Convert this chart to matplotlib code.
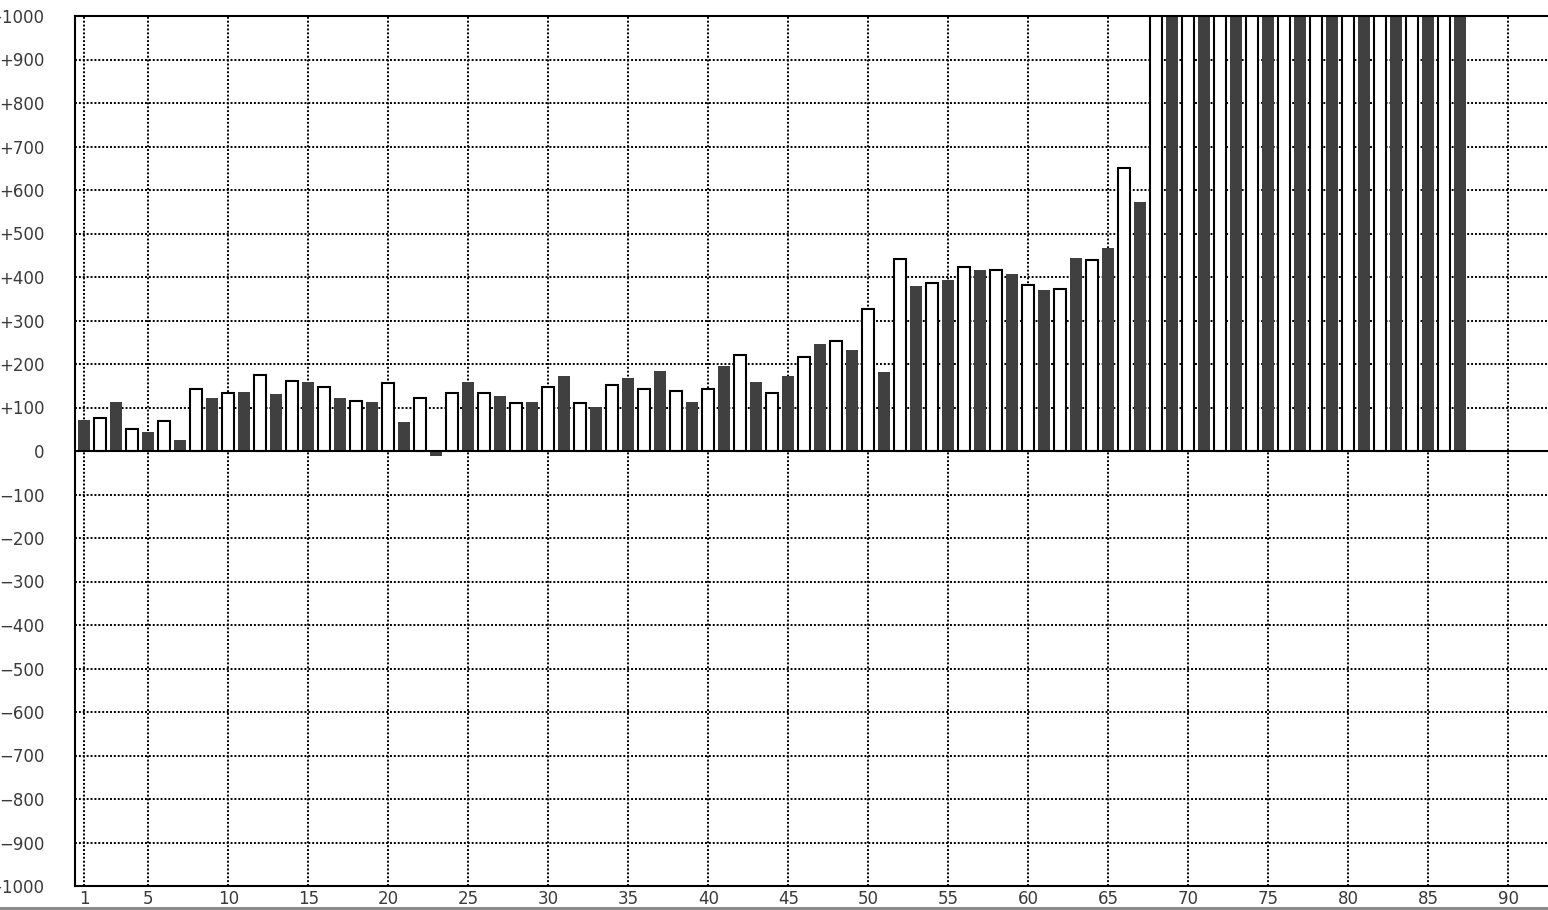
"""
Bar chart of 87 consecutive readings, alternating dark / outlined bars, +-1000 scale.
"""
import numpy as np
import matplotlib.pyplot as plt
from matplotlib.patches import Rectangle

# readings 1..87; 68..87 run off the top of the scale (value unknown, > 1000)
values = [
    71, 75, 112, 51, 43, 69, 25, 143, 121, 134,
    135, 175, 131, 162, 158, 147, 121, 116, 112, 157,
    66, 121, -11, 134, 158, 134, 126, 110, 112, 147,
    172, 110, 102, 152, 167, 142, 185, 138, 112, 142,
    195, 221, 158, 134, 172, 216, 245, 254, 232, 327,
    181, 442, 379, 387, 393, 424, 416, 415, 407, 382,
    370, 373, 444, 438, 467, 650, 573,
    1200, 1200, 1200, 1200, 1200, 1200, 1200, 1200, 1200, 1200,
    1200, 1200, 1200, 1200, 1200, 1200, 1200, 1200, 1200, 1200,
]
x_ticks = [1, 5, 10, 15, 20, 25, 30, 35, 40, 45, 50, 55, 60, 65, 70, 75, 80, 85, 90]
y_ticks = list(range(-1000, 1001, 100))
y_labels = ['0' if v == 0 else (f'+{v}' if v > 0 else f'\u2212{-v}') for v in y_ticks]

DARK = '#404040'
W, H = 1548, 910


def main():
    fig = plt.figure(figsize=(W / 100, H / 100), dpi=100)
    ax = fig.add_axes([75 / W, 24 / H, (1553 - 75) / W, (886 - 16) / H])

    n = np.arange(1, len(values) + 1)
    vals = np.array(values)
    odd = n % 2 == 1
    ax.bar(n[odd], vals[odd], width=0.75, color=DARK, lw=0, zorder=2)
    ax.bar(n[~odd], vals[~odd], width=0.75, facecolor='white',
           edgecolor='black', lw=1.5, zorder=2)

    ax.axhline(0, color='black', lw=1.5, zorder=3)

    ax.set_xlim(0.41, 92.8)
    ax.set_ylim(-1000, 1000)
    ax.set_xticks(x_ticks)
    ax.set_yticks(y_ticks)
    ax.set_yticklabels(y_labels)
    ax.grid(True, color='black', lw=1.4, ls=(0, (1, 1)), zorder=0)
    ax.set_axisbelow(True)
    ax.tick_params(axis='both', length=0, labelsize=12, labelcolor='#3a3a3a')
    ax.tick_params(axis='y', pad=22)
    ax.tick_params(axis='x', pad=3)
    for s in ('left', 'bottom', 'top'):
        ax.spines[s].set_linewidth(1.5)
    ax.spines['right'].set_visible(False)

    fig.add_artist(Rectangle((0, 0), 1, 3 / H, transform=fig.transFigure,
                             color='#8c8c8c', lw=0))
    fig.savefig('out.png', dpi=100)
    plt.close()


if __name__ == '__main__':
    main()
